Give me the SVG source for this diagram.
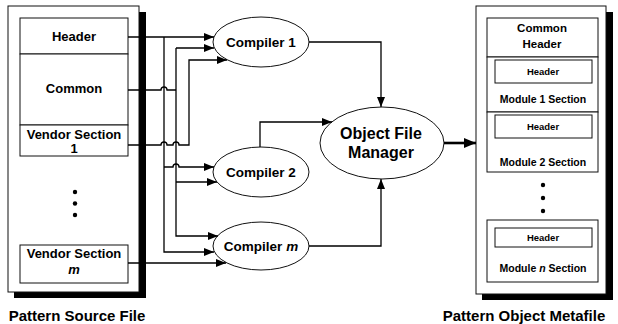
<svg xmlns="http://www.w3.org/2000/svg" width="618" height="324" viewBox="0 0 618 324">
<style>
.box{fill:#fff;stroke:#111;stroke-width:1}
.shadow{fill:#000}
.t{font-family:"Liberation Sans",Arial,sans-serif;font-weight:bold;fill:#000;text-anchor:middle}
.ell{fill:#fff;stroke:#111;stroke-width:1}
.c{fill:none;stroke:#000;stroke-width:1.3}
.thick{fill:none;stroke:#000;stroke-width:2.6}
.dot{fill:#000}
</style>
<defs>
<marker id="ah" viewBox="0 0 10 8" refX="10" refY="4" markerWidth="10" markerHeight="8" markerUnits="userSpaceOnUse" orient="auto"><path d="M0,0 L10,4 L0,8 z" fill="#000"/></marker>
<marker id="ahb" viewBox="0 0 12 10" refX="12" refY="5" markerWidth="12" markerHeight="10" markerUnits="userSpaceOnUse" orient="auto"><path d="M0,0 L12,5 L0,10 z" fill="#000"/></marker>
</defs>

<g id="source-file">
<rect class="shadow" x="139" y="12" width="7" height="286"/>
<rect class="shadow" x="14" y="292" width="132" height="6"/>
<rect class="box" x="8" y="6" width="131" height="286"/>
<g id="src-header"><rect class="box" x="20" y="18" width="108" height="36"/><text class="t" x="74" y="40.5" font-size="13">Header</text></g>
<g id="src-common"><rect class="box" x="20" y="54" width="108" height="71"/><text class="t" x="74" y="93" font-size="13">Common</text></g>
<g id="src-vendor1"><rect class="box" x="20" y="125" width="108" height="31"/><text class="t" x="74" y="138.5" font-size="13">Vendor Section</text><text class="t" x="74" y="152.5" font-size="13">1</text></g>
<circle class="dot" cx="75" cy="192" r="2.2"/><circle class="dot" cx="75" cy="203.5" r="2.2"/><circle class="dot" cx="75" cy="215" r="2.2"/>
<g id="src-vendorm"><rect class="box" x="20" y="245" width="108" height="38"/><text class="t" x="74" y="258" font-size="13">Vendor Section</text><text class="t" x="74" y="274" font-size="13" font-style="italic">m</text></g>
<text class="t" x="77" y="321" font-size="15">Pattern Source File</text>
</g>

<g id="compiler1"><ellipse class="ell" cx="261" cy="42" rx="48" ry="25"/><text class="t" x="261" y="47" font-size="13.5">Compiler 1</text></g>
<g id="compiler2"><ellipse class="ell" cx="261" cy="172" rx="48" ry="25"/><text class="t" x="261" y="177" font-size="13.5">Compiler 2</text></g>
<g id="compilerm"><ellipse class="ell" cx="261" cy="246" rx="48" ry="24"/><text class="t" x="261" y="251" font-size="13.5">Compiler <tspan font-style="italic">m</tspan></text></g>
<g id="object-file-manager"><ellipse class="ell" cx="382" cy="143" rx="62" ry="36"/><text class="t" x="381" y="139" font-size="16">Object File</text><text class="t" x="381" y="158" font-size="16">Manager</text></g>

<g id="metafile">
<rect class="shadow" x="606" y="12" width="7" height="288"/>
<rect class="shadow" x="482" y="294" width="131" height="6"/>
<rect class="box" x="476" y="6" width="130" height="288"/>
<g id="meta-common"><rect class="box" x="487" y="18" width="111" height="39"/><text class="t" x="542" y="32" font-size="11.5">Common</text><text class="t" x="542" y="48" font-size="11.5">Header</text></g>
<g id="meta-mod1"><rect class="box" x="487" y="57" width="111" height="55"/><rect class="box" x="495" y="60" width="97" height="23"/><text class="t" x="543" y="75" font-size="9.5">Header</text><text class="t" x="543" y="103" font-size="10.5">Module 1 Section</text></g>
<g id="meta-mod2"><rect class="box" x="487" y="112" width="111" height="60"/><rect class="box" x="495" y="115" width="97" height="23"/><text class="t" x="543" y="130" font-size="9.5">Header</text><text class="t" x="543" y="166" font-size="10.5">Module 2 Section</text></g>
<circle class="dot" cx="543" cy="185" r="2.2"/><circle class="dot" cx="543" cy="198" r="2.2"/><circle class="dot" cx="543" cy="211" r="2.2"/>
<g id="meta-modn"><rect class="box" x="487" y="220" width="111" height="62"/><rect class="box" x="495" y="228" width="97" height="19"/><text class="t" x="543" y="241" font-size="9.5">Header</text><text class="t" x="543" y="272" font-size="10.5">Module <tspan font-style="italic">n</tspan> Section</text></g>
<text class="t" x="524" y="321" font-size="15">Pattern Object Metafile</text>
</g>

<g id="connectors">
<path class="c" d="M128,37 H214" marker-end="url(#ah)"/>
<path class="c" d="M164,37 V252 H214" marker-end="url(#ah)"/>
<path class="c" d="M164,167 H173 A3,3 0 0 1 179,167 H214" marker-end="url(#ah)"/>
<path class="c" d="M128,90 H161 A3,3 0 0 1 167,90 H176"/>
<path class="c" d="M176,48 V236 H218" marker-end="url(#ah)"/>
<path class="c" d="M176,48 H214" marker-end="url(#ah)"/>
<path class="c" d="M176,182 H217" marker-end="url(#ah)"/>
<path class="c" d="M128,145 H161 A3,3 0 0 1 167,145 H173 A3,3 0 0 1 179,145 H189 V60 H227" marker-end="url(#ah)"/>
<path class="c" d="M128,263 H226" marker-end="url(#ah)"/>
<path class="c" d="M309,42 H381 V107" marker-end="url(#ah)"/>
<path class="c" d="M260,147 V122 H332" marker-end="url(#ah)"/>
<path class="c" d="M309,246 H381 V179" marker-end="url(#ah)"/>
<path class="thick" d="M444,143 H476" marker-end="url(#ahb)"/>
</g>
</svg>
